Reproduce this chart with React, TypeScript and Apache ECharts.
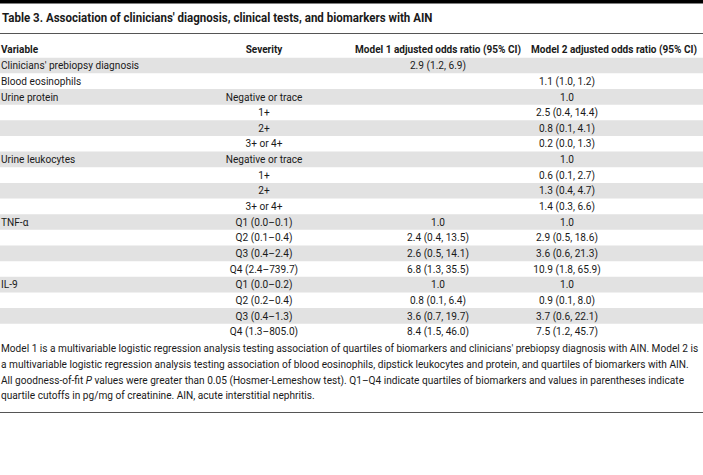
import { useEffect, useRef } from "react";
import * as echarts from "echarts";

const title =
  "Table 3. Association of clinicians' diagnosis, clinical tests, and biomarkers with AIN";
const headers = [
  "Variable",
  "Severity",
  "Model 1 adjusted odds ratio (95% CI)",
  "Model 2 adjusted odds ratio (95% CI)",
];
const variables = [
  "Clinicians' prebiopsy diagnosis",
  "Blood eosinophils",
  "Urine protein",
  "",
  "",
  "",
  "Urine leukocytes",
  "",
  "",
  "",
  "TNF-α",
  "",
  "",
  "",
  "IL-9",
  "",
  "",
  "",
];
const severity = [
  "",
  "",
  "Negative or trace",
  "1+",
  "2+",
  "3+ or 4+",
  "Negative or trace",
  "1+",
  "2+",
  "3+ or 4+",
  "Q1 (0.0–0.1)",
  "Q2 (0.1–0.4)",
  "Q3 (0.4–2.4)",
  "Q4 (2.4–739.7)",
  "Q1 (0.0–0.2)",
  "Q2 (0.2–0.4)",
  "Q3 (0.4–1.3)",
  "Q4 (1.3–805.0)",
];
const model1 = [
  "2.9 (1.2, 6.9)",
  "",
  "",
  "",
  "",
  "",
  "",
  "",
  "",
  "",
  "1.0",
  "2.4 (0.4, 13.5)",
  "2.6 (0.5, 14.1)",
  "6.8 (1.3, 35.5)",
  "1.0",
  "0.8 (0.1, 6.4)",
  "3.6 (0.7, 19.7)",
  "8.4 (1.5, 46.0)",
];
const model2 = [
  "",
  "1.1 (1.0, 1.2)",
  "1.0",
  "2.5 (0.4, 14.4)",
  "0.8 (0.1, 4.1)",
  "0.2 (0.0, 1.3)",
  "1.0",
  "0.6 (0.1, 2.7)",
  "1.3 (0.4, 4.7)",
  "1.4 (0.3, 6.6)",
  "1.0",
  "2.9 (0.5, 18.6)",
  "3.6 (0.6, 21.3)",
  "10.9 (1.8, 65.9)",
  "1.0",
  "0.9 (0.1, 8.0)",
  "3.7 (0.6, 22.1)",
  "7.5 (1.2, 45.7)",
];
const footnotes = [
  "Model 1 is a multivariable logistic regression analysis testing association of quartiles of biomarkers and clinicians' prebiopsy diagnosis with AIN. Model 2 is",
  "a multivariable logistic regression analysis testing association of blood eosinophils, dipstick leukocytes and protein, and quartiles of biomarkers with AIN.",
  "All goodness-of-fit {i|P} values were greater than 0.05 (Hosmer-Lemeshow test). Q1–Q4 indicate quartiles of biomarkers and values in parentheses indicate",
  "quartile cutoffs in pg/mg of creatinine. AIN, acute interstitial nephritis.",
];

const FONT = "Roboto";
const BODY = 11.5;
const HEAD = 11;
const TITLE = 12.5;
const COLOR = "#1a1a1a";

function measure(text: string, size: number, weight: string) {
  const c = document.createElement("canvas").getContext("2d");
  if (!c) return text.length * size * 0.5;
  c.font = `${weight} ${size}px ${FONT}`;
  return c.measureText(text.replace(/\{i\|([^}]*)\}/g, "$1")).width;
}

export default function App() {
  const ref = useRef<HTMLDivElement>(null);
  useEffect(() => {
    if (!ref.current) return;
    const chart = echarts.init(ref.current, null, { renderer: "svg" });
    const W = 703;
    const ROW0 = 65.5;
    const ROWH = 15.65;
    const bodyScale = 698 / measure(footnotes[0], BODY, "normal");
    const boldScale = 431 / measure(title, TITLE, "bold");
    const headScale = 166 / measure(headers[2], HEAD, "bold");
    const colX = [1, 264, 438, 567];
    const headX = [1, 264, 438, 614];
    const els: any[] = [];
    const txt = (
      text: string,
      x: number,
      y: number,
      size: number,
      weight: string,
      align: string,
      scale: number,
      rich?: any
    ) => ({
      type: "text",
      x,
      y,
      scaleX: scale,
      style: {
        text,
        fontFamily: FONT,
        fontSize: size,
        fontWeight: weight,
        fill: COLOR,
        textAlign: align,
        textVerticalAlign: "middle",
        ...(rich ? { rich } : {}),
      },
    });
    els.push({ type: "rect", shape: { x: 0, y: 0, width: W, height: 3.6 }, style: { fill: "#000" } });
    els.push(txt(title, 2, 18, TITLE, "bold", "left", boldScale));
    els.push({ type: "line", shape: { x1: 0, y1: 33.5, x2: W, y2: 33.5 }, style: { stroke: "#555", lineWidth: 1 } });
    headers.forEach((h, i) => {
      els.push(txt(h, headX[i], 49, HEAD, "bold", i === 0 ? "left" : "center", headScale));
    });
    const cols = [variables, severity, model1, model2];
    variables.forEach((_, r) => {
      const cy = ROW0 + r * ROWH;
      if (r % 2 === 0) {
        els.push({
          type: "rect",
          shape: { x: 0, y: cy - ROWH / 2, width: W, height: ROWH },
          style: { fill: "#e2e2e2" },
          z: -1,
        });
      }
      cols.forEach((col, c) => {
        if (!col[r]) return;
        els.push(txt(col[r], colX[c], cy, BODY, "normal", c === 0 ? "left" : "center", bodyScale));
      });
    });
    footnotes.forEach((f, i) => {
      els.push(
        txt(f, 1, 348.5 + i * 15.7, BODY, "normal", "left", bodyScale, {
          i: { fontStyle: "italic", fontFamily: FONT, fontSize: BODY, fill: COLOR },
        })
      );
    });
    els.push({ type: "line", shape: { x1: 0, y1: 412.5, x2: W, y2: 412.5 }, style: { stroke: "#555", lineWidth: 1 } });
    chart.setOption({ animation: false, graphic: { elements: els } });
    return () => chart.dispose();
  }, []);
  return (
    <div
      ref={ref}
      style={{ position: "fixed", left: 0, top: 0, width: 703, height: 475, background: "#fff" }}
    />
  );
}
